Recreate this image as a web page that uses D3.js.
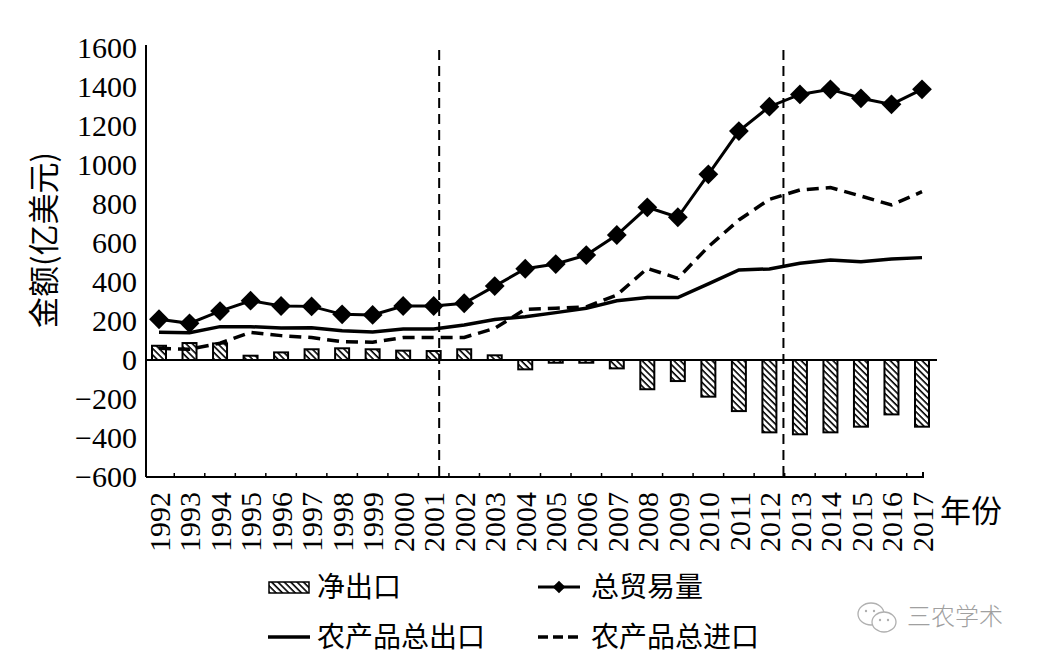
<!DOCTYPE html>
<html>
<head>
<meta charset="utf-8">
<script src="https://cdn.jsdelivr.net/npm/d3@7"></script>
<style>
  html, body { margin: 0; padding: 0; background: #fff; }
  svg { display: block; }
  .serif { font-family: "Liberation Serif", "Times New Roman", "DejaVu Serif", serif; }
</style>
</head>
<body>
<svg id="chart" width="1038" height="663"></svg>
<script>
// ---------- data ----------
const years = [1992,1993,1994,1995,1996,1997,1998,1999,2000,2001,2002,2003,2004,
               2005,2006,2007,2008,2009,2010,2011,2012,2013,2014,2015,2016,2017];
const totalTrade = [209,188,251,304,277,275,234,231,277,277,291,379,468,
                    492,538,641,783,732,952,1174,1299,1362,1388,1342,1311,1388];
const agriExport = [142,140,171,171,164,165,150,144,159,159,180,208,222,
                    243,265,304,320,320,390,462,467,496,513,504,518,525];
const agriImport = [60,55,86,142,125,115,94,91,115,116,116,162,260,
                    265,273,333,470,419,581,718,824,872,884,841,795,863];
const netExport = [73,87,85,22,39,55,60,55,48,46,55,24,-48,
                   -14,-14,-43,-150,-108,-188,-262,-371,-381,-371,-342,-279,-342];
const yTicks = [-600,-400,-200,0,200,400,600,800,1000,1200,1400,1600];
const dividers = [2001.18, 2012.46];
const yTitle = "金额(亿美元)";
const xTitle = "年份";
const legendLabels = ["净出口", "总贸易量", "农产品总出口", "农产品总进口"];
const watermark = "三农学术";

// ---------- setup ----------
const svg = d3.select("#chart");
const cjk = "'Noto Sans CJK SC', 'Noto Sans', sans-serif";

const y = d3.scaleLinear().domain([-600, 1600]).range([477, 48]);
const x = d3.scalePoint().domain(years).range([159, 922]);
const xl = d3.scaleLinear().domain([1992, 2017]).range([159, 922]);
const axisLeftX = 146;

// hatch pattern
const defs = svg.append("defs");
const pat = defs.append("pattern")
  .attr("id", "hatch").attr("patternUnits", "userSpaceOnUse")
  .attr("width", 4.5).attr("height", 4.5)
  .attr("patternTransform", "rotate(-45)");
pat.append("rect").attr("width", 4.5).attr("height", 4.5).attr("fill", "#fff");
pat.append("line").attr("x1", 1).attr("y1", 0).attr("x2", 1).attr("y2", 4.5)
  .attr("stroke", "#000").attr("stroke-width", 1.6);

// ---------- y axis ----------
const yAxis = svg.append("g")
  .attr("transform", `translate(${axisLeftX},0)`)
  .call(d3.axisLeft(y).tickValues(yTicks).tickSize(0).tickSizeOuter(0).tickPadding(9)
        .tickFormat(d => d < 0 ? "\u2212" + Math.abs(d) : String(d)));
yAxis.attr("font-family", null).attr("font-size", null);
yAxis.select(".domain").attr("stroke", "#000").attr("stroke-width", 2)
  .attr("d", `M0,${y(-600)}V${y(1600) - 3}`);
yAxis.selectAll("text").attr("class", "serif").style("font-size", "30px").attr("fill", "#000");

// ---------- zero line ----------
svg.append("line")
  .attr("x1", axisLeftX).attr("x2", 937)
  .attr("y1", y(0)).attr("y2", y(0))
  .attr("stroke", "#000").attr("stroke-width", 2);

// ---------- x axis ----------
const xAxis = svg.append("g")
  .attr("transform", `translate(0,${y(-600)})`)
  .call(d3.axisBottom(x).tickSize(0).tickSizeOuter(0));
xAxis.attr("font-family", null).attr("font-size", null);
xAxis.select(".domain").attr("stroke", "#000").attr("stroke-width", 2)
  .attr("d", `M${axisLeftX},0H${x(2017) + 1}V-5`);
xAxis.selectAll(".tick text")
  .attr("class", "serif").style("font-size", "30px").attr("fill", "#000")
  .attr("transform", "rotate(-90)")
  .attr("text-anchor", "end")
  .attr("x", -15).attr("y", 0).attr("dy", "0.34em");

// category boundary ticks (pointing up)
svg.append("g").selectAll("line")
  .data(years.slice(0, -1))
  .join("line")
  .attr("x1", d => xl(d + 0.5)).attr("x2", d => xl(d + 0.5))
  .attr("y1", y(-600)).attr("y2", y(-600) - 4)
  .attr("stroke", "#000").attr("stroke-width", 1.5);

// ---------- bars ----------
const barW = 14;
svg.append("g").selectAll("rect")
  .data(years.map((yr, i) => ({ yr, v: netExport[i] })))
  .join("rect")
  .attr("x", d => x(d.yr) - barW / 2)
  .attr("width", barW)
  .attr("y", d => Math.min(y(d.v), y(0)))
  .attr("height", d => Math.abs(y(d.v) - y(0)))
  .attr("fill", "url(#hatch)")
  .attr("stroke", "#000").attr("stroke-width", 2);

// ---------- lines ----------
const lineGen = d3.line().x((d, i) => x(years[i])).y(d => y(d));

svg.append("path").datum(agriImport)
  .attr("d", lineGen).attr("fill", "none")
  .attr("stroke", "#000").attr("stroke-width", 3.5)
  .attr("stroke-dasharray", "12,7");

svg.append("path").datum(agriExport)
  .attr("d", lineGen).attr("fill", "none")
  .attr("stroke", "#000").attr("stroke-width", 3.5);

svg.append("path").datum(totalTrade)
  .attr("d", lineGen).attr("fill", "none")
  .attr("stroke", "#000").attr("stroke-width", 3);

const diamond = d3.symbol().type(d3.symbolSquare).size(196);
svg.append("g").selectAll("path")
  .data(totalTrade)
  .join("path")
  .attr("d", diamond)
  .attr("transform", (d, i) => `translate(${x(years[i])},${y(d)}) rotate(45)`)
  .attr("fill", "#000");

// ---------- dividers ----------
svg.append("g").selectAll("line")
  .data(dividers)
  .join("line")
  .attr("x1", d => xl(d)).attr("x2", d => xl(d))
  .attr("y1", y(1590)).attr("y2", y(-600) + 2)
  .attr("stroke", "#000").attr("stroke-width", 2)
  .attr("stroke-dasharray", "10,6");

// ---------- titles ----------
svg.append("text")
  .attr("transform", `translate(55,240) rotate(-90)`)
  .attr("text-anchor", "middle")
  .attr("font-family", cjk).attr("font-size", 31).attr("fill", "#000")
  .text(yTitle);

svg.append("text")
  .attr("x", 940).attr("y", 522)
  .attr("font-family", cjk).attr("font-size", 31).attr("fill", "#000")
  .text(xTitle);

// ---------- legend ----------
const lg = svg.append("g");
const lfs = 28;
// net export
lg.append("rect").attr("x", 269).attr("y", 582).attr("width", 40).attr("height", 11)
  .attr("fill", "url(#hatch)").attr("stroke", "#000").attr("stroke-width", 1.5);
lg.append("text").attr("x", 317).attr("y", 597)
  .attr("font-family", cjk).attr("font-size", lfs).attr("fill", "#000").text(legendLabels[0]);
// total trade
lg.append("line").attr("x1", 538).attr("x2", 580).attr("y1", 587).attr("y2", 587)
  .attr("stroke", "#000").attr("stroke-width", 3);
lg.append("path").attr("d", d3.symbol().type(d3.symbolSquare).size(80)())
  .attr("transform", "translate(559,587) rotate(45)").attr("fill", "#000");
lg.append("text").attr("x", 591).attr("y", 597)
  .attr("font-family", cjk).attr("font-size", lfs).attr("fill", "#000").text(legendLabels[1]);
// export
lg.append("line").attr("x1", 268).attr("x2", 310).attr("y1", 637).attr("y2", 637)
  .attr("stroke", "#000").attr("stroke-width", 3.5);
lg.append("text").attr("x", 317).attr("y", 647)
  .attr("font-family", cjk).attr("font-size", lfs).attr("fill", "#000").text(legendLabels[2]);
// import
lg.append("line").attr("x1", 538).attr("x2", 580).attr("y1", 637).attr("y2", 637)
  .attr("stroke", "#000").attr("stroke-width", 3.5).attr("stroke-dasharray", "10,5");
lg.append("text").attr("x", 591).attr("y", 647)
  .attr("font-family", cjk).attr("font-size", lfs).attr("fill", "#000").text(legendLabels[3]);

// ---------- watermark ----------
const wm = svg.append("g").attr("stroke", "#b0b0b0").attr("fill", "none").attr("stroke-width", 1.3);
wm.append("ellipse").attr("cx", 871).attr("cy", 614).attr("rx", 13).attr("ry", 11);
wm.append("ellipse").attr("cx", 884).attr("cy", 622).attr("rx", 12).attr("ry", 10).attr("fill", "#fff");
[[866,611],[874,611],[880,620],[888,620]].forEach(([cx, cy]) =>
  wm.append("circle").attr("cx", cx).attr("cy", cy).attr("r", 1.2).attr("fill", "#b0b0b0").attr("stroke", "none"));
svg.append("text").attr("x", 907).attr("y", 625)
  .attr("font-family", cjk).attr("font-weight", 300).attr("font-size", 24).attr("fill", "#a0a0a0")
  .text(watermark);
</script>
</body>
</html>
